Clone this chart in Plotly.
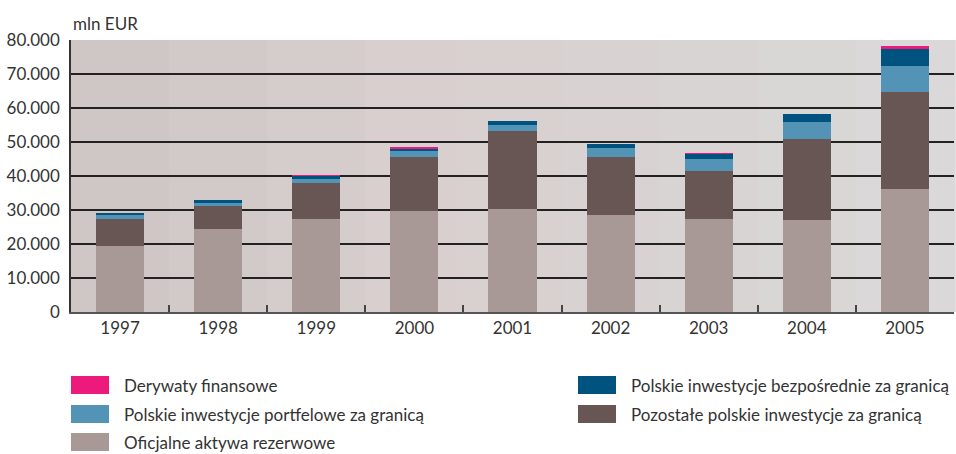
import plotly.graph_objects as go

# values in mln EUR
years = ['1997', '1998', '1999', '2000', '2001', '2002', '2003', '2004', '2005']
oficjalne = [19300, 24300, 27300, 29700, 30200, 28400, 27300, 27000, 36100]
pozostale = [8200, 6800, 10600, 15900, 22900, 17200, 14100, 23800, 28500]
portfelowe = [900, 900, 1100, 1800, 1800, 2600, 3500, 5000, 7700]
bezposrednie = [600, 900, 1000, 800, 1200, 1100, 1600, 2300, 5300]
derywaty = [0, 0, 80, 60, 0, 0, 80, 0, 500]

names = {
    'der': 'Derywaty finansowe',
    'bez': 'Polskie inwestycje bezpośrednie za granicą',
    'port': 'Polskie inwestycje portfelowe za granicą',
    'poz': 'Pozostałe polskie inwestycje za granicą',
    'ofi': 'Oficjalne aktywa rezerwowe',
}
colors = {
    'ofi': '#a89996',
    'poz': '#685654',
    'port': '#5293b6',
    'bez': '#00527f',
    'der': '#ec1a7b',
}
series = [('ofi', oficjalne), ('poz', pozostale), ('port', portfelowe),
          ('bez', bezposrednie), ('der', derywaty)]

W, H = 956, 454
L, R, T, B = 71, 2, 40, 142
FONT = 'Lato'
FS = 17
TXT = '#333333'

fig = go.Figure()
for key, vals in series:
    fig.add_trace(go.Bar(x=years, y=vals, name=names[key],
                         marker=dict(color=colors[key], line=dict(width=0)),
                         showlegend=False))

# pixel -> paper helpers
def px(x):
    return (x - L) / (W - L - R)

def py(y):
    return (H - B - y) / (H - B - T)

shapes = []
# soft background gradient (left greyish pink -> light grey)
stops = ['#cec7c5', '#d1cac8', '#d5cdcc', '#d8cfce', '#d9d1d0', '#d8d2d2', '#d8d4d4', '#d9d6d6', '#dad8d8']
n = len(stops)
for i, c in enumerate(stops):
    shapes.append(dict(type='rect', xref='paper', yref='paper', x0=i / n, x1=(i + 1) / n + 0.002,
                       y0=0, y1=1, fillcolor=c, line=dict(width=0), layer='below'))

# manual legend with wide swatches
legend_rows = [('der', 0, 385), ('bez', 1, 385), ('port', 0, 414), ('poz', 1, 414), ('ofi', 0, 442)]
col_x = [71, 578]
annotations = []
for key, col, yc in legend_rows:
    x0 = col_x[col]
    shapes.append(dict(type='rect', xref='paper', yref='paper', x0=px(x0), x1=px(x0 + 38),
                       y0=py(yc + 9), y1=py(yc - 9), fillcolor=colors[key], line=dict(width=0)))
    annotations.append(dict(text=names[key], xref='paper', yref='paper', x=px(x0 + 51), y=py(yc),
                            xanchor='left', yanchor='middle', showarrow=False,
                            font=dict(family=FONT, size=FS, color=TXT)))

annotations.append(dict(text='mln EUR', xref='paper', yref='paper', x=0, y=py(24),
                        xanchor='left', yanchor='middle', showarrow=False,
                        font=dict(family=FONT, size=FS, color=TXT)))

fig.update_layout(
    width=W, height=H,
    margin=dict(l=L, r=R, t=T, b=B),
    barmode='stack',
    bargap=0.51,
    separators=',.',
    paper_bgcolor='white',
    plot_bgcolor='#d6cfce',
    font=dict(family=FONT, size=FS, color=TXT),
    shapes=shapes,
    annotations=annotations,
    xaxis=dict(
        showgrid=False,
        showline=True, linecolor='#555555', linewidth=2,
        ticks='inside', tickson='boundaries', ticklen=7, tickwidth=1.5, tickcolor='#444444',
        tickfont=dict(size=FS, color=TXT),
        automargin=False,
    ),
    yaxis=dict(
        range=[0, 80000],
        tickvals=list(range(0, 80001, 10000)),
        tickformat=',.0f',
        showgrid=True, gridcolor='#222222', gridwidth=1.5,
        showline=True, linecolor='#333333', linewidth=1.5,
        zeroline=False,
        ticks='outside', ticklen=6, tickcolor='rgba(0,0,0,0)',
        tickfont=dict(size=FS, color=TXT),
        automargin=False,
    ),
)

# page has a default 8px body margin; remove it so the figure fills the window
fig.write_html('out.html', config={'displayModeBar': False},
               post_script="document.body.style.margin='0';")
